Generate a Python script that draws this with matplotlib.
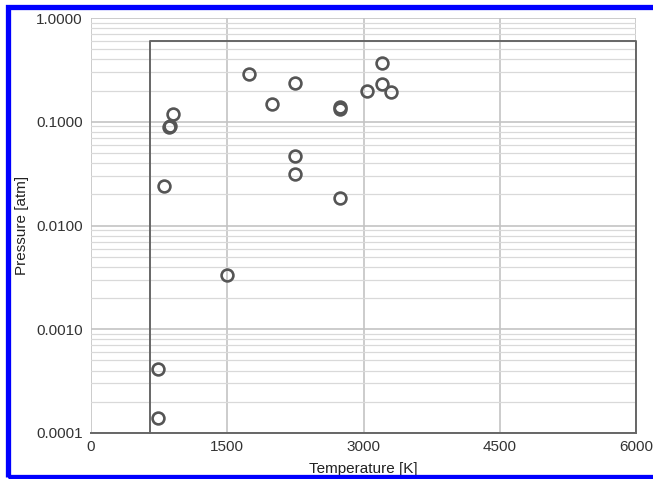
import numpy as np
import matplotlib.pyplot as plt
from matplotlib.patches import Rectangle
from matplotlib.ticker import FixedLocator, LogLocator, NullFormatter

plt.rcParams["font.family"] = ["Liberation Sans", "DejaVu Sans"]

# measured conditions
temperature = [737, 737, 1500, 804, 860, 865, 903, 1740, 1993, 2246, 2246, 2246,
               2741, 2741, 2741, 3039, 3204, 3204, 3303]
pressure = [0.00014, 0.00041, 0.0033, 0.024, 0.089, 0.092, 0.118, 0.29, 0.148,
            0.236, 0.047, 0.0315, 0.139, 0.133, 0.0184, 0.198, 0.368, 0.232, 0.194]

# valid region box
box_t = [650, 6000]
box_p = [0.0001, 0.6]

x_ticks = [0, 1500, 3000, 4500, 6000]
y_ticks = [0.0001, 0.001, 0.01, 0.1, 1.0]

W, H = 653, 479
fig = plt.figure(figsize=(W / 100, H / 100), dpi=100)
# blue frame (right edge falls outside the picture)
fig.patches.append(Rectangle((7.5 / W, 2 / H), 660 / W, 470.5 / H,
                             transform=fig.transFigure, fill=False,
                             edgecolor="#0000ff", linewidth=3.8))
ax = fig.add_axes([91 / W, 46 / H, 545 / W, 415 / H])

ax.set_yscale("log")
ax.set_xlim(0, 6000)
ax.set_ylim(0.0001, 1.0)

ax.xaxis.set_major_locator(FixedLocator(x_ticks))
ax.yaxis.set_major_locator(FixedLocator(y_ticks))
ax.yaxis.set_minor_locator(LogLocator(base=10, subs=np.arange(2, 10)))
ax.yaxis.set_minor_formatter(NullFormatter())
ax.set_yticklabels([f"{v:.4f}" for v in y_ticks])
ax.set_xticklabels([str(v) for v in x_ticks])

ax.grid(True, which="major", color="#c4c4c4", linewidth=1.2)
ax.grid(True, which="minor", axis="y", color="#d9d9d9", linewidth=0.9)
ax.set_axisbelow(True)

for side in ["left", "top", "right"]:
    ax.spines[side].set_visible(False)
ax.spines["bottom"].set_color("#666666")
ax.spines["bottom"].set_linewidth(1.4)
ax.tick_params(which="both", length=0, labelsize=11, colors="#333333")
ax.tick_params(axis="x", pad=5)
ax.tick_params(axis="y", pad=6)

ax.plot([box_t[0], box_t[0], box_t[1], box_t[1]],
        [box_p[0], box_p[1], box_p[1], box_p[0]],
        color="#666666", linewidth=1.4, clip_on=False)

ax.plot(temperature, pressure, "o", markersize=8.5, markerfacecolor="none",
        markeredgecolor="#555555", markeredgewidth=1.9, clip_on=False)

ax.set_xlabel("Temperature [K]", fontsize=11, color="#222222", labelpad=6)
ax.set_ylabel("Pressure [atm]", fontsize=11, color="#222222", labelpad=5)

fig.savefig("out.png", dpi=100)
